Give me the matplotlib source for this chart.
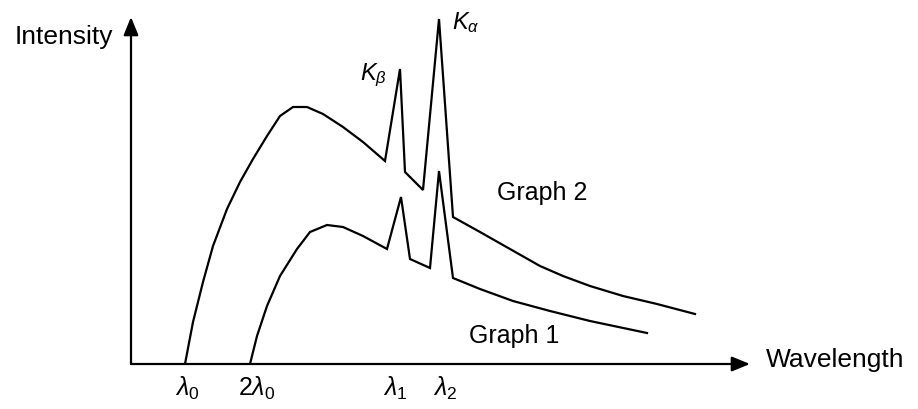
import matplotlib
matplotlib.use('Agg')
import matplotlib.pyplot as plt

plt.rcParams['font.family'] = ['Liberation Sans', 'DejaVu Sans']
plt.rcParams['mathtext.fontset'] = 'custom'
plt.rcParams['mathtext.rm'] = 'Liberation Sans'
plt.rcParams['mathtext.it'] = 'Liberation Sans:italic'

# wavelength / intensity (arbitrary units)
graph2_wl = [54, 62, 72, 82, 96, 109, 122, 136, 149, 162, 176, 192, 212, 232, 254,
             269, 274, 292, 308, 322, 349, 379, 409, 432, 459, 492, 526, 564]
graph2_int = [0, 42, 82, 118, 155, 182, 205, 228, 248, 257, 257, 250, 237, 222, 203,
              295, 192, 174, 345, 147, 132, 115, 98, 88, 78, 68, 60, 50]

graph1_wl = [119, 126, 136, 149, 166, 179, 196, 212, 232, 256,
             270, 279, 299, 308, 322, 349, 382, 419, 459, 516]
graph1_int = [0, 28, 58, 88, 115, 132, 139, 137, 128, 115,
              167, 105, 96, 193, 86, 75, 63, 53, 43, 31]

tick_pos = [56, 126, 264, 314]
tick_labels = [r'$\lambda_\mathit{0}$', r'$\mathrm{2}\lambda_\mathit{0}$',
               r'$\lambda_\mathit{1}$', r'$\lambda_\mathit{2}$']

W, H = 918, 410
fig = plt.figure(figsize=(W / 100, H / 100), dpi=100)
ax = fig.add_axes([131 / W, (H - 365) / H, (750 - 131) / W, (365 - 18) / H])
ax.set_xlim(0, 619)
ax.set_ylim(0, 347)

ax.plot(graph2_wl, graph2_int, color='black', lw=1.6, solid_joinstyle='miter')
ax.plot(graph1_wl, graph1_int, color='black', lw=1.6, solid_joinstyle='miter')

for s in ax.spines.values():
    s.set_visible(False)

arrow = dict(arrowstyle='-|>,head_length=1.1,head_width=0.45', color='black',
             lw=1.6, shrinkA=0, shrinkB=0)
ax.annotate('', xy=(1, 0), xytext=(0, 0), xycoords='axes fraction', arrowprops=arrow)
ax.annotate('', xy=(0, 1), xytext=(0, 0), xycoords='axes fraction', arrowprops=arrow)

ax.set_xticks(tick_pos)
ax.set_xticklabels(tick_labels, fontsize=18)
ax.tick_params(axis='x', length=0, pad=7)
ax.set_yticks([])

ax.text(242, 290, r'$K_\beta$', fontsize=17, ha='center', va='center')
ax.text(335, 342, r'$K_\alpha$', fontsize=17, ha='center', va='center')
ax.text(411, 172, 'Graph 2', fontsize=18, ha='center', va='center')
ax.text(383, 29, 'Graph 1', fontsize=18, ha='center', va='center')

fig.text(113 / W, 1 - 37 / H, 'Intensity', fontsize=19, ha='right', va='center')
fig.text(766 / W, 1 - 360 / H, 'Wavelength', fontsize=19, ha='left', va='center')

fig.savefig('out.png', dpi=100)
